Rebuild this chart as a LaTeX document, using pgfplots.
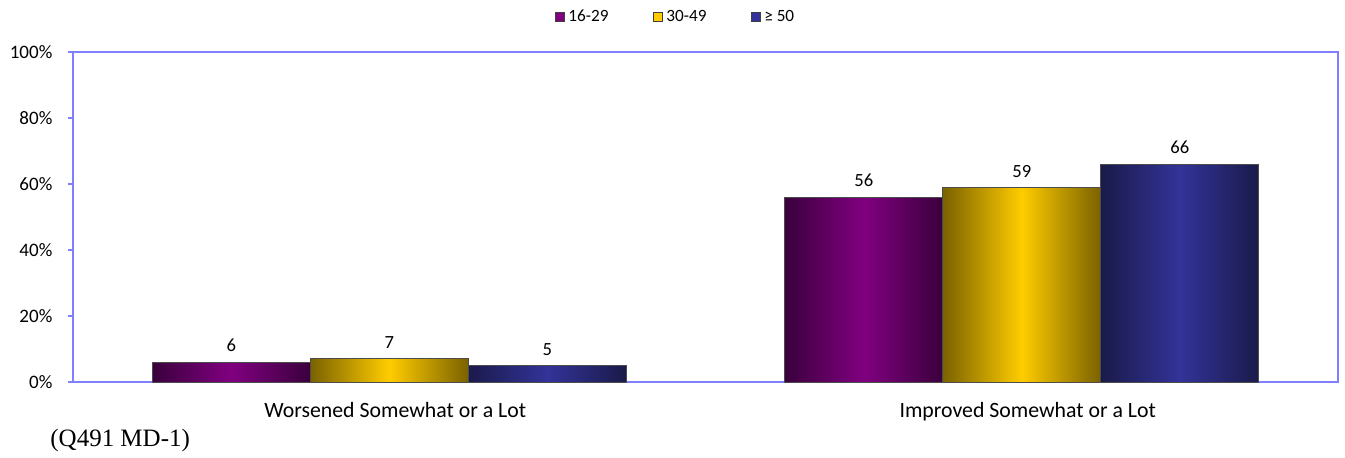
\documentclass[border=0pt]{standalone}
\usepackage{fontspec}
\setmainfont{Carlito}
\newfontfamily\footserif{Liberation Serif}
\usepackage{pgfplots}
\pgfplotsset{compat=1.18}
\definecolor{purM}{HTML}{800080}
\definecolor{purE}{HTML}{3A003C}
\definecolor{yelM}{HTML}{FFCC00}
\definecolor{yelE}{HTML}{7A6200}
\definecolor{bluM}{HTML}{333399}
\definecolor{bluE}{HTML}{1A1A4A}
\definecolor{axcol}{HTML}{8080FF}
\begin{document}
\begin{tikzpicture}
\begin{axis}[
  name=ax,
  scale only axis,
  width=632.5pt, height=165pt,
  xmin=-0.5, xmax=1.5, ymin=0, ymax=100,
  ybar, bar width=79pt,
  axis line style={axcol, line width=0.6pt},
  xtick={0,1},
  xticklabels={Worsened Somewhat or a Lot, Improved Somewhat or a Lot},
  x tick style={draw=none},
  ytick={0,20,40,60,80,100},
  yticklabel={\pgfmathprintnumber{\tick}\%},
  ytick style={axcol, line width=0.6pt},
  y tick label style={font=\fontsize{9.5}{11}\selectfont, xshift=-4.3pt},
  x tick label style={font=\fontsize{10.9}{12}\selectfont, yshift=-4.3pt, xshift=3pt},
  tick align=outside,
  major tick length=2.5pt,
  xtick pos=bottom, ytick pos=left,
  /pgf/number format/assume math mode=true,
  nodes near coords,
  every node near coord/.append style={font=\fontsize{9.3}{10}\selectfont, text=black, yshift=1.5pt},
  legend columns=3,
  legend style={draw=none, fill=none, at={(axis description cs:0.477,1.106)}, anchor=center,
    font=\fontsize{8.6}{10}\selectfont,
    /tikz/every even column/.append style={column sep=20pt}},
  legend image code/.code={\draw[#1] (0pt,-2.3pt) rectangle (4.5pt,2.3pt);},
  clip=false,
]
\addlegendimage{fill=purM, draw=black!75}
\addlegendentry{16-29}
\addlegendimage{fill=yelM, draw=black!75}
\addlegendentry{30-49}
\addlegendimage{fill=bluM, draw=black!75}
\addlegendentry{≥ 50}
% Worsened
\addplot[forget plot, bar shift=-79pt, draw=black!70, line width=0.4pt, left color=purE, right color=purE, middle color=purM] coordinates {(0,6)};
\addplot[forget plot, bar shift=0pt, draw=black!70, line width=0.4pt, left color=yelE, right color=yelE, middle color=yelM] coordinates {(0,7)};
\addplot[forget plot, bar shift=79pt, draw=black!70, line width=0.4pt, left color=bluE, right color=bluE, middle color=bluM] coordinates {(0,5)};
% Improved
\addplot[forget plot, bar shift=-79pt, draw=black!70, line width=0.4pt, left color=purE, right color=purE, middle color=purM] coordinates {(1,56)};
\addplot[forget plot, bar shift=0pt, draw=black!70, line width=0.4pt, left color=yelE, right color=yelE, middle color=yelM] coordinates {(1,59)};
\addplot[forget plot, bar shift=79pt, draw=black!70, line width=0.4pt, left color=bluE, right color=bluE, middle color=bluM] coordinates {(1,66)};
\end{axis}
\node[anchor=west, font=\footserif\fontsize{12.5}{14}\selectfont, inner sep=0pt] at ([xshift=-11.5pt,yshift=-29pt]ax.south west) {(Q491 MD-1)};
\pgfresetboundingbox
\path ([xshift=-36.5pt,yshift=-38pt]ax.south west) rectangle ([xshift=3.5pt,yshift=26pt]ax.north east);
\end{tikzpicture}
\end{document}
